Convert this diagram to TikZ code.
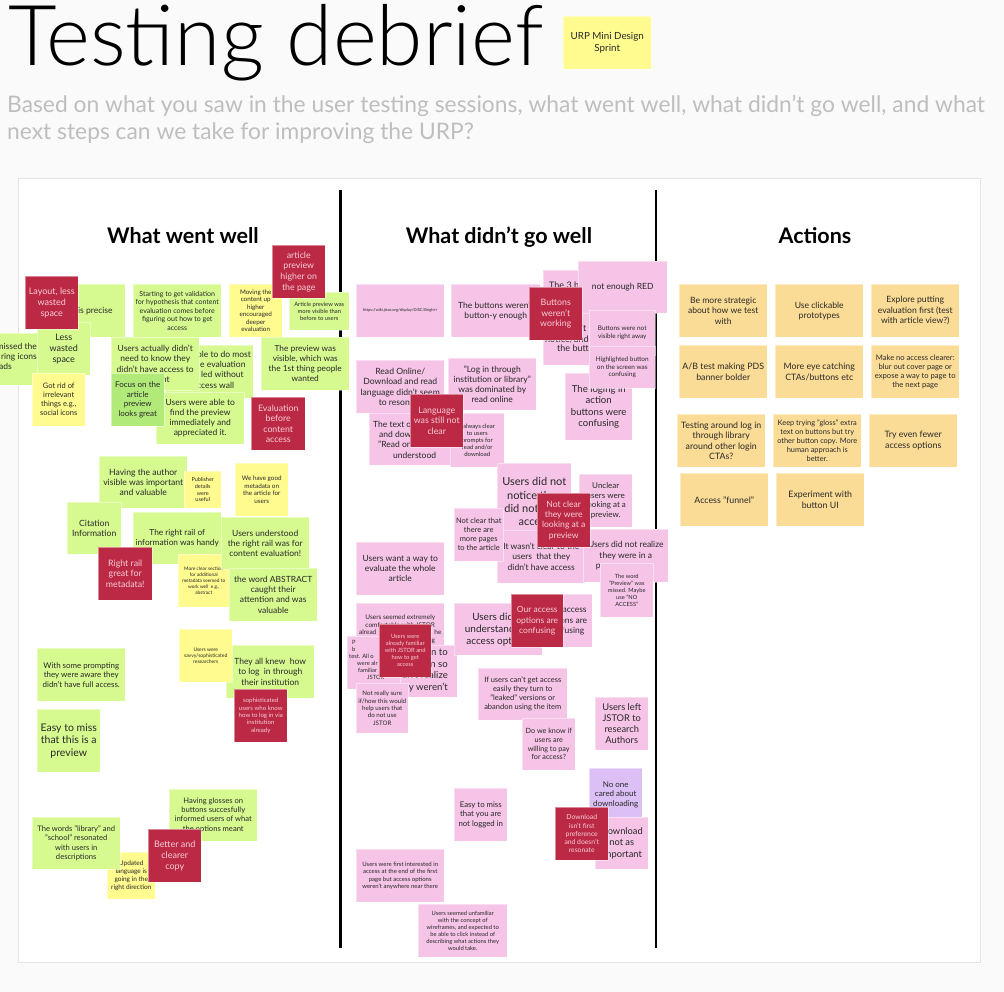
\documentclass[tikz,border=0pt]{standalone}
\usepackage{fontspec}
\setmainfont{Lato}
\newfontfamily\thinfont{Lato Light}
\definecolor{page}{RGB}{250,250,250}
\definecolor{edge}{RGB}{228,228,228}
\definecolor{ink}{RGB}{40,40,40}
\definecolor{subgray}{RGB}{190,190,190}
\definecolor{grn}{RGB}{214,250,143}
\definecolor{dgrn}{RGB}{178,234,122}
\definecolor{ylw}{RGB}{255,251,142}
\definecolor{rd}{RGB}{187,41,68}
\definecolor{rdtx}{RGB}{247,206,216}
\definecolor{pnk}{RGB}{245,196,230}
\definecolor{prp}{RGB}{220,192,245}
\definecolor{org}{RGB}{251,220,150}
\newcommand\fs[1]{\fontsize{#1}{\dimexpr#1pt*6/5\relax}\selectfont}
\begin{document}
\begin{tikzpicture}[x=1pt,y=-1pt,
  card/.style={anchor=north west,inner sep=1pt,align=center,text=ink,draw=white,draw opacity=.45,line width=.5pt},
  sz/.style 2 args={minimum width=#1pt,minimum height=#2pt},
  gcard/.style={card,fill=grn},
  dcard/.style={card,fill=dgrn},
  ycard/.style={card,fill=ylw},
  rcard/.style={card,fill=rd,text=rdtx},
  pcard/.style={card,fill=pnk},
  vcard/.style={card,fill=prp},
  ocard/.style={card,fill=org},
  frag/.style={inner sep=0pt,text=ink},
  head/.style={anchor=base,inner sep=0pt,font=\fs{21.5}\bfseries}]
\useasboundingbox (0,0) rectangle (1004,992);
\fill[page] (0,0) rectangle (1004,992);
% header
\node[anchor=base west,inner sep=0pt,font=\thinfont\fs{84}] (title) at (8,66) {Testing debrief};
\node[ycard,sz={88}{53},font=\fs{9.8}] (tag) at (563,16) {URP Mini Design\\Sprint};
\node[anchor=base west,inner sep=0pt,text=subgray,font=\fs{22.8}] (sub1) at (7,113) {Based on what you saw in the user testing sessions, what went well, what didn't go well, and what};
\node[anchor=base west,inner sep=0pt,text=subgray,font=\fs{22.8}] (sub2) at (7,140) {next steps can we take for improving the URP?};
% board
\path
(18,178) coordinate (b1)
(980,962) coordinate (b2)
(340.5,190) coordinate (s1)
(340.5,948) coordinate (s2)
(656,190) coordinate (s3)
(656,948) coordinate (s4)
;
\draw[edge,fill=white] (b1) rectangle (b2);
\draw[line width=2.2pt] (s1)--(s2) (s3)--(s4);
\foreach \n/\x/\txt in {h1/183/What went well,h2/499/What didn't go well,h3/815/Actions}
  \node[head] (\n) at (\x,244) {\txt};
% what went well
\node[gcard,sz={50}{52}] (w1) at (-12,333) {};
\node[frag,anchor=north east,align=right,font=\fs{8.5}] (w1t) at (37,343) {missed the\\ring icons\\ads\hspace*{25pt}};
\node[gcard,sz={88}{53}] (w2) at (37,284) {};
\node[frag,anchor=base west,font=\fs{8.5}] (w2t) at (78,314) {is precise};
\node[gcard,sz={53}{53},font=\fs{9}] (w3) at (37,322) {Less\\wasted\\space};
\node[rcard,sz={53}{53},font=\fs{9}] (w4) at (25,276) {Layout, less\\wasted\\space};
\node[ycard,sz={53}{53},font=\fs{7.5}] (w5) at (32,373) {Got rid of\\irrelevant\\things e.g.,\\social icons};
\node[gcard,sz={88}{53},font=\fs{7}] (w6) at (133,284) {Starting to get validation\\for hypothesis that content\\evaluation comes before\\figuring out how to get\\access};
\node[ycard,sz={53}{53},font=\fs{6.3}] (w7) at (229,284) {Moving the\\content up\\higher\\encouraged\\deeper\\evaluation};
\node[gcard,sz={60}{38},font=\fs{5.8}] (w8) at (289,292) {Article preview was\\more visible than\\before to users};
\node[rcard,sz={53}{53},font=\fs{8.8}] (w9) at (272,245) {article\\preview\\higher on\\the page};
\node[gcard,sz={88}{53},font=\fs{8.3}] (w10) at (261,337) {The preview was\\visible, which was\\the 1st thing people\\wanted};
\node[gcard,sz={88}{53}] (w11) at (165,345) {};
\node[frag,anchor=north west,align=left,font=\fs{8.5}] (w11t) at (197,351) {ble to do most\\\hspace*{3pt}e evaluation\\\hspace*{4pt}led without\\ccess wall};
\node[gcard,sz={88}{53},font=\fs{8.5}] (w12) at (111,337) {Users actually didn't\\need to know they\\didn't have access to\\content};
\node[gcard,sz={88}{52},font=\fs{8.5}] (w13) at (156,392) {Users were able to\\find the preview\\immediately and\\appreciated it.};
\node[dcard,sz={53}{53},font=\fs{8}] (w14) at (111,373) {Focus on the\\article\\preview\\looks great};
\node[rcard,sz={54}{53},font=\fs{8.8}] (w15) at (251,397) {Evaluation\\before\\content\\access};
\node[gcard,sz={88}{52},font=\fs{8.6}] (w16) at (99,456) {Having the author\\visible was important\\and valuable};
\node[ycard,sz={37}{37},font=\fs{5.5}] (w17) at (184,471) {Publisher\\details\\were\\useful};
\node[ycard,sz={53}{53},font=\fs{6.3}] (w18) at (235,463) {We have good\\metadata on\\the article for\\users};
\node[gcard,sz={54}{52},font=\fs{8.6}] (w19) at (67,502) {Citation\\Information};
\node[gcard,sz={88}{52},font=\fs{8.3}] (w20) at (133,512) {The right rail of\\information was handy};
\node[ycard,sz={51}{53},font=\fs{4.8}] (w21) at (178,554) {More clear section\\for additional\\metadata seemed to\\work well~ e.g.,\\abstract};
\node[gcard,sz={88}{52},font=\fs{8.5}] (w22) at (221,517) {Users understood\\the right rail was for\\content evaluation!};
\node[rcard,sz={54}{53},font=\fs{8.8}] (w23) at (98,547) {Right rail\\great for\\metadata!};
\node[gcard,sz={88}{53},font=\fs{8.5}] (w24) at (229,568) {the word ABSTRACT\\caught their\\attention and was\\valuable};
\node[gcard,sz={88}{53},font=\fs{8.5}] (w27) at (226,645) {They all knew~ how\\to log~ in through\\their institution};
\node[ycard,sz={53}{53},font=\fs{5}] (w28) at (179,629) {Users were\\savvy/sophisticated\\researchers};
\node[rcard,sz={53}{53},font=\fs{6.1}] (w29) at (234,689) {sophisticated\\users who know\\how to log in via\\institution\\already};
\node[gcard,sz={88}{53},font=\fs{7.9}] (w25) at (37,648) {With some prompting\\they were aware they\\didn't have full access.};
\node[gcard,sz={63}{63},font=\fs{10.5}] (w26) at (37,709) {Easy to miss\\that this is a\\preview};
\node[gcard,sz={88}{52},font=\fs{7.6}] (w30) at (169,789) {Having glosses on\\buttons succesfully\\informed users of what\\the options meant};
\node[ycard,sz={48}{47},font=\fs{6.5}] (w32) at (107,852) {Updated\\language is\\going in the\\right direction};
\node[gcard,sz={88}{52},font=\fs{7.6}] (w31) at (32,817) {The words "library" and\\"school" resonated\\with users in\\descriptions};
\node[rcard,sz={53}{53},font=\fs{9}] (w33) at (148,829) {Better and\\clearer\\copy};
% what didn't go well
\node[pcard,sz={88}{53},font=\fs{4}] (d1) at (356,284) {https://wiki.jstor.org/display/DISC/Bright+};
\node[pcard,sz={97}{95}] (d3) at (543,270) {};
\node[frag,anchor=base west,font=\fs{9}] (d3a) at (549,289) {The 3 b};
\node[frag,anchor=base west,font=\fs{9}] (d3b) at (576,331) {n't s};
\node[frag,anchor=base west,font=\fs{9}] (d3c) at (545,342) {notice/unde};
\node[frag,anchor=base west,font=\fs{9}] (d3d) at (557,352) {the butto};
\node[pcard,sz={89}{52},font=\fs{8.5}] (d5) at (578,261) {not enough RED};
\node[pcard,sz={89}{53},font=\fs{8.5}] (d2) at (451,284) {The buttons weren't\\button-y enough};
\node[rcard,sz={53}{53},font=\fs{8.8}] (d4) at (529,287) {Buttons\\weren't\\working};
\node[pcard,sz={67}{67},font=\fs{9.6}] (d8) at (565,373) {The loging in\\action\\buttons were\\confusing};
\node[pcard,sz={66}{45},font=\fs{6.4}] (d6) at (589,310) {Buttons were not\\visible right away};
\node[pcard,sz={66}{42},font=\fs{6.4}] (d7) at (589,346) {Highlighted button\\on the screen was\\confusing};
\node[pcard,sz={88}{53},font=\fs{8.6}] (d9) at (356,360) {Read Online/\\Download and read\\language didn't seem\\to resonate};
\node[pcard,sz={88}{52},font=\fs{8.5}] (d10) at (448,358) {"Log in through\\institution or library"\\was dominated by\\read online};
\node[pcard,sz={88}{52}] (d11) at (369,413) {};
\node[frag,anchor=north west,align=left,font=\fs{8.5}] (d11t) at (373,421) {The text op\\\hspace*{6pt}and dow\\\hspace*{5pt}"Read onli\\\hspace*{20pt}understood};
\node[pcard,sz={54}{54},font=\fs{6}] (d12) at (450,413) {t always clear\\to users\\prompts for\\read and/or\\download};
\node[rcard,sz={53}{53},font=\fs{8.8}] (d13) at (410,394) {Language\\was still not\\clear};
\node[pcard,sz={74}{77},font=\fs{11}] (d14) at (497,463) {Users did not\\notice they\\did not have\\access};
\node[pcard,sz={88}{53},font=\fs{8.5}] (d15) at (497,530) {It wasn't clear to the\\users~ that they\\didn't have access};
\node[pcard,sz={49}{53},font=\fs{7.5}] (d16) at (454,508) {Not clear that\\there are\\more pages\\to the article};
\node[pcard,sz={53}{53},font=\fs{8}] (d17) at (579,474) {Unclear\\users were\\looking at a\\preview.};
\node[pcard,sz={85}{53},font=\fs{8.5}] (d18) at (583,529) {Users did not realize\\they were in a\\p\hspace*{55pt}};
\node[pcard,sz={53}{54},font=\fs{5.7}] (d19) at (600,563) {The word\\"Preview" was\\missed. Maybe\\use "NO\\ACCESS"};
\node[rcard,sz={53}{54},font=\fs{8.6}] (d20) at (537,493) {Not clear\\they were\\looking at a\\preview};
\node[pcard,sz={88}{53},font=\fs{8.5}] (d21) at (356,542) {Users want a way to\\evaluate the whole\\article};
\node[pcard,sz={88}{52},font=\fs{6.5}] (d22) at (356,603) {Users seemed extremely\\comfortable with JSTOR\\alread\hspace*{58pt}he\\targe\hspace*{48pt}ng};
\node[pcard,sz={88}{52}] (d23) at (369,645) {};
\node[frag,anchor=north east,align=right,font=\fs{9.6}] (d23t) at (448,649) {n to\\in so\\dn't realize\\y weren't};
\node[pcard,sz={53}{53}] (d24) at (347,636) {};
\node[frag,anchor=north west,align=left,font=\fs{5.8}] (d24t) at (349,640) {\hspace*{3pt}P\\\hspace*{3pt}b\\test. All o\\\hspace*{8pt}were alr\\\hspace*{9pt}familiar\\\hspace*{18pt}JSTOR};
\node[rcard,sz={52}{53},font=\fs{5.8}] (d25) at (379,624) {Users were\\already familiar\\with JSTOR and\\how to get\\access};
\node[pcard,sz={52}{50},font=\fs{6.2}] (d26) at (356,683) {Not really sure\\if/how this would\\help users that\\do not use\\JSTOR};
\node[pcard,sz={88}{52},font=\fs{10}] (d27) at (454,603) {Users didn't\\understand the\\access options};
\node[pcard,sz={52}{53},font=\fs{8.5}] (d28) at (540,594) {Our access\\options are\\confusing};
\node[rcard,sz={52}{53},font=\fs{8.5}] (d29) at (511,594) {Our access\\options are\\confusing};
\node[pcard,sz={89}{52},font=\fs{7.5}] (d30) at (478,668) {If users can't get access\\easily they turn to\\"leaked" versions or\\abandon using the item};
\node[pcard,sz={53}{52},font=\fs{7.2}] (d31) at (522,718) {Do we know if\\users are\\willing to pay\\for access?};
\node[pcard,sz={53}{53},font=\fs{9.3}] (d32) at (595,697) {Users left\\JSTOR to\\research\\Authors};
\node[vcard,sz={53}{53},font=\fs{8}] (d33) at (589,768) {No one\\cared about\\downloading};
\node[pcard,sz={53}{52},font=\fs{9.3}] (d34) at (595,817) {Download\\not as\\important};
\node[rcard,sz={53}{53},font=\fs{6.8}] (d35) at (555,807) {Download\\isn't first\\preference\\and doesn't\\resonate};
\node[pcard,sz={53}{53},font=\fs{7.8}] (d36) at (454,788) {Easy to miss\\that you are\\not logged in};
\node[pcard,sz={88}{53},font=\fs{6}] (d37) at (356,849) {Users were first interested in\\access at the end of the first\\page but access options\\weren't anywhere near there};
\node[pcard,sz={89}{53},font=\fs{5.8}] (d38) at (418,904) {Users seemed unfamiliar\\with the concept of\\wireframes, and expected to\\be able to click instead of\\describing what actions they\\would take.};
% actions
\foreach \n/\x/\y/\f/\txt in {
  a1/679/284/8.6/{Be more strategic\\about how we test\\with},
  a2/775/284/8.6/{Use clickable\\prototypes},
  a3/871/284/8.6/{Explore putting\\evaluation first (test\\with article view?)},
  a4/679/345/8.8/{A/B test making PDS\\banner bolder},
  a5/775/345/8.8/{More eye catching\\CTAs/buttons etc},
  a6/871/345/7.6/{Make no access clearer:\\blur out cover page or\\expose a way to page to\\the next page},
  a7/677/414/8.8/{Testing around log in\\through library\\around other login\\CTAs?},
  a8/773/414/7.4/{Keep trying "gloss" extra\\text on buttons but try\\other button copy. More\\human approach is\\better.},
  a9/869/414/8.8/{Try even fewer\\access options},
  a10/680/473/8.8/{Access "funnel"},
  a11/776/473/8.8/{Experiment with\\button UI}}
  \node[ocard,sz={88}{53},font=\fs{\f}] (\n) at (\x,\y) {\txt};
\end{tikzpicture}
\end{document}
